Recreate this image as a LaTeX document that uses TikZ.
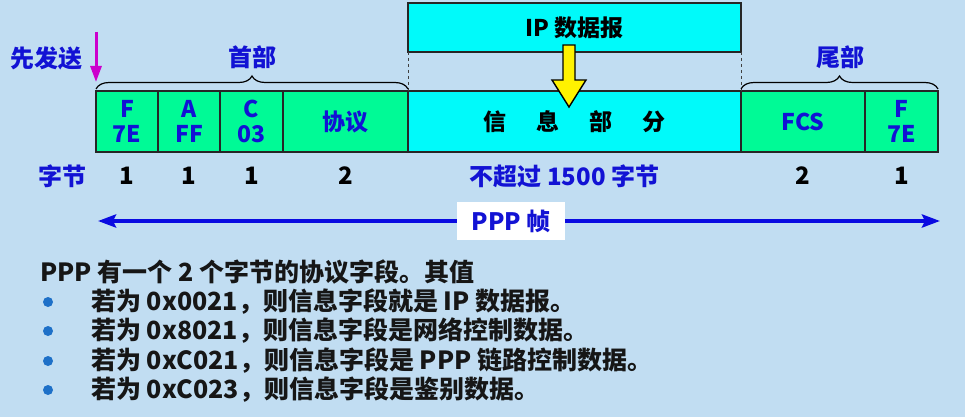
\documentclass[tikz,border=0pt]{standalone}
\usepackage{fontspec}
\setmainfont{Noto Sans CJK SC}
\usepackage{xcolor}
\usepackage{tikz}
\usetikzlibrary{positioning, arrows.meta, decorations.pathreplacing}
\definecolor{PPPBack}{RGB}{193, 221, 242}
\definecolor{PPPGreen}{RGB}{0, 250, 150}
\definecolor{PPPCyan}{RGB}{0, 250, 250}
\definecolor{PPPBlue}{RGB}{18, 18, 212}
\definecolor{PPPLine}{RGB}{10, 10, 225}
\definecolor{PPPMagenta}{RGB}{204, 0, 204}
\definecolor{PPPDot}{RGB}{30, 112, 200}
\definecolor{PPPText}{RGB}{22, 22, 22}

\tikzset{
  field/.style={draw=black!85, line width=1.2pt, fill=PPPGreen, minimum height=61pt,
    inner sep=0pt, outer sep=0pt, align=center, text=PPPBlue,
    font=\fontsize{23}{25}\selectfont\bfseries},
  infofield/.style={field, fill=PPPCyan, text=black},
  bluetag/.style={text=PPPBlue, font=\fontsize{24}{26}\selectfont\bfseries},
  bytenum/.style={text=black, font=\fontsize{24}{26}\selectfont\bfseries},
  fieldbrace/.style={decorate, decoration={brace, amplitude=13pt}, line width=1.2pt},
  sendarrow/.style={PPPMagenta, line width=3pt, -{Triangle[length=16pt,width=11pt]}},
  framearrow/.style={PPPLine, line width=4pt,
    {Stealth[length=18pt,width=13pt,inset=3pt]}-{Stealth[length=18pt,width=13pt,inset=3pt]}},
  frametag/.style={fill=white, text=PPPBlue, inner xsep=15pt, inner ysep=8pt,
    font=\fontsize{24}{26}\selectfont\bfseries},
  note/.style={anchor=west, text=PPPText, inner sep=0pt,
    font=\fontsize{25}{27}\selectfont\bfseries},
  notedot/.style={circle, fill=PPPDot, minimum size=10pt, inner sep=0pt}
}

\begin{document}
\begin{tikzpicture}[x=1pt,y=-1pt]
  \fill[PPPBack] (0,0) rectangle (965,417);
  \path[use as bounding box] (0,0) rectangle (965,417);

  % frame fields
  \node[field, minimum width=62pt, anchor=north west] (fF) at (96,91) {F\\7E};
  \node[field, minimum width=62pt, right=0pt of fF] (fA) {A\\FF};
  \node[field, minimum width=63pt, right=0pt of fA] (fC) {C\\03};
  \node[field, minimum width=125pt, right=0pt of fC] (fProto) {协议};
  \node[infofield, minimum width=333pt, right=0pt of fProto] (fInfo)
    {信\hspace{1.3em}息\hspace{1.3em}部\hspace{1.3em}分};
  \node[field, minimum width=124pt, right=0pt of fInfo] (fFCS) {FCS};
  \node[field, minimum width=73pt, right=0pt of fFCS] (fF2) {F\\7E};

  % IP datagram on top
  \node[infofield, minimum width=333pt, minimum height=49pt, anchor=north west]
    (ipDgram) at (408,3) {IP 数据报};
  \draw[dashed, black!75, line width=0.9pt] (ipDgram.south west) -- (fInfo.north west);
  \draw[dashed, black!75, line width=0.9pt] (ipDgram.south east) -- (fInfo.north east);
  \draw[fill=yellow, line width=1.4pt, line join=miter]
    (563,45) -- (575,45) -- (575,80) -- (586,80) -- (569,107) -- (552,80) -- (563,80) -- cycle;

  % braces
  \draw[fieldbrace] ([yshift=2pt]fF.north west) -- ([yshift=2pt]fProto.north east);
  \draw[fieldbrace] ([yshift=2pt]fFCS.north west) -- ([yshift=2pt]fF2.north east);
  \node[bluetag] (headLbl) at (252,57) {首部};
  \node[bluetag] (tailLbl) at (840,57) {尾部};

  % first sent
  \node[bluetag] (sendLbl) at (46,58) {先发送};
  \coordinate (sendTop) at (96,32);
  \draw[sendarrow] (sendTop) -- ([yshift=9pt]fF.north west);

  % byte counts
  \coordinate (byteRow) at (0,176);
  \node[bluetag] (byteLbl) at (62,176) {字节};
  \node[bytenum] (nF) at (fF |- byteRow) {1};
  \node[bytenum] (nA) at (fA |- byteRow) {1};
  \node[bytenum] (nC) at (fC |- byteRow) {1};
  \node[bytenum] (nProto) at (fProto |- byteRow) {2};
  \node[bluetag, xshift=-10pt] (nInfo) at (fInfo |- byteRow) {不超过 1500 字节};
  \node[bytenum] (nFCS) at (fFCS |- byteRow) {2};
  \node[bytenum] (nF2) at (fF2 |- byteRow) {1};

  % whole frame
  \coordinate (frameL) at (98,221);
  \coordinate (frameR) at (940,221);
  \draw[framearrow] (frameL) -- (frameR);
  \node[frametag] (pppFrame) at (511,221) {PPP 帧};

  % protocol field notes
  \node[note] (intro) at (40,272) {PPP 有一个 2 个字节的协议字段。其值};
  \node[notedot] (d1) at (48,302) {};
  \node[note] (v1) at (91,302) {若为 0x0021，则信息字段就是 IP 数据报。};
  \node[notedot] (d2) at (48,331) {};
  \node[note] (v2) at (91,331) {若为 0x8021，则信息字段是网络控制数据。};
  \node[notedot] (d3) at (48,361) {};
  \node[note] (v3) at (91,361) {若为 0xC021，则信息字段是 PPP 链路控制数据。};
  \node[notedot] (d4) at (48,390) {};
  \node[note] (v4) at (91,390) {若为 0xC023，则信息字段是鉴别数据。};
\end{tikzpicture}
\end{document}
